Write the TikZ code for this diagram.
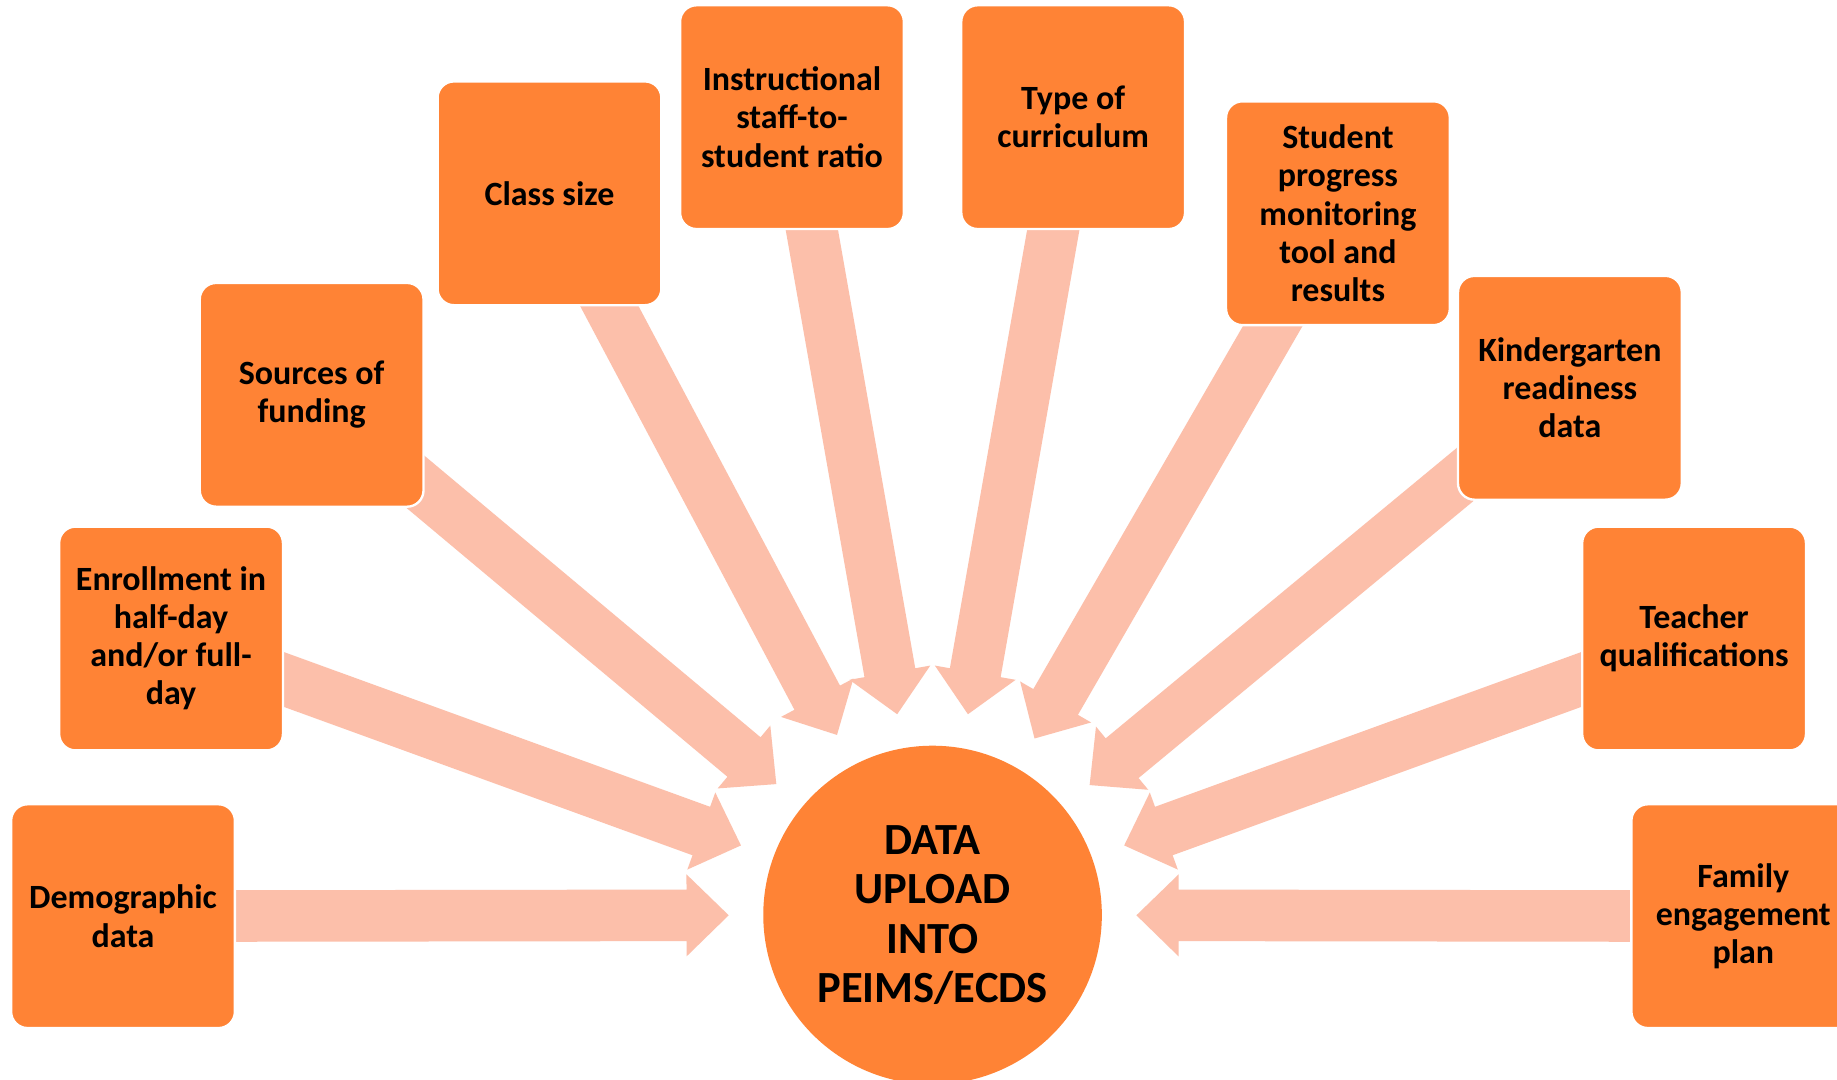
\documentclass[tikz,border=0pt]{standalone}
\usepackage{fontspec}
\setmainfont{Carlito}
\usetikzlibrary{calc,backgrounds}
\definecolor{boxorange}{RGB}{255,131,53}
\definecolor{arrowpink}{RGB}{252,191,170}
\newcommand\blockarrow[2]{%
  \coordinate (tip#2) at ($(C.center)!174pt!(#1.center)$);
  \coordinate (hb#2) at ($(tip#2)!36pt!(#1.center)$);
  \fill[arrowpink] ($(#1.center)!22pt!90:(tip#2)$) -- ($(hb#2)!22pt!90:(tip#2)$)
    -- ($(hb#2)!35pt!90:(tip#2)$) -- (tip#2) -- ($(hb#2)!35pt!-90:(tip#2)$)
    -- ($(hb#2)!22pt!-90:(tip#2)$) -- ($(#1.center)!22pt!-90:(tip#2)$) -- cycle;
}
\tikzset{
  infobox/.style={rectangle, rounded corners=14pt, minimum width=191pt,
    minimum height=191pt, fill=boxorange, draw=white, line width=2pt,
    align=center, inner sep=0pt, font=\fontsize{29}{32.5}\selectfont\bfseries},
  hub/.style={circle, minimum size=289pt, fill=boxorange, draw=none,
    align=center, inner sep=0pt, font=\fontsize{38}{42}\selectfont\bfseries}
}
\begin{document}
\begin{tikzpicture}[x=1pt,y=-1pt]
\useasboundingbox (0,0) rectangle (1568,921);
\clip (0,0) rectangle (1568,921);
\node[hub] (C) at (796,781) {DATA\\UPLOAD\\INTO\\PEIMS/ECDS};
\node[infobox] (b1) at (105,782) {Demographic\\data};
\node[infobox] (b2) at (146,545) {Enrollment in\\half-day\\and/or full-\\day};
\node[infobox] (b3) at (266,337) {Sources of\\funding};
\node[infobox] (b4) at (469,165) {Class size};
\node[infobox] (b5) at (676,100) {Instructional\\staff-to-\\student ratio};
\node[infobox] (b6) at (916,100) {Type of\\curriculum};
\node[infobox] (b7) at (1142,182) {Student\\progress\\monitoring\\tool and\\results};
\node[infobox] (b8) at (1340,331) {Kindergarten\\readiness\\data};
\node[infobox] (b9) at (1446,545) {Teacher\\qualifications};
\node[infobox] (b10) at (1488,782) {Family\\engagement\\plan};
\begin{pgfonlayer}{background}
\fill[white] (0,0) rectangle (1568,921);
\blockarrow{b1}{1}
\blockarrow{b2}{2}
\blockarrow{b3}{3}
\blockarrow{b4}{4}
\blockarrow{b5}{5}
\blockarrow{b6}{6}
\blockarrow{b7}{7}
\blockarrow{b8}{8}
\blockarrow{b9}{9}
\blockarrow{b10}{10}
\end{pgfonlayer}
\end{tikzpicture}
\end{document}
